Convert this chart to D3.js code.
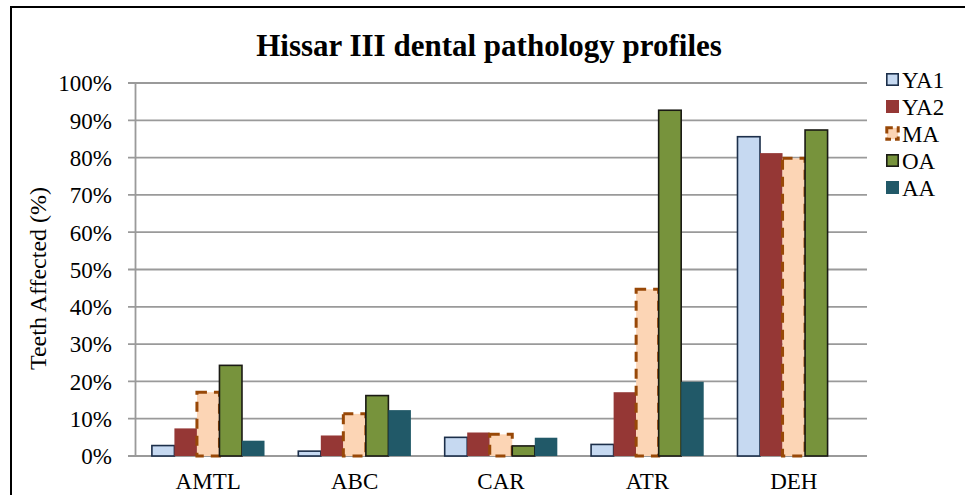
<!DOCTYPE html>
<html>
<head>
<meta charset="utf-8">
<script src="https://cdn.jsdelivr.net/npm/d3@7"></script>
<style>
  html, body { margin: 0; padding: 0; background: #fff; }
  svg { display: block; }
  text { font-family: "Liberation Serif", "Times New Roman", serif; fill: #000; }
</style>
</head>
<body>
<svg id="chart" width="965" height="495"></svg>
<script>
// Pathology categories and the share of teeth affected (%) per age group
const categories = ["AMTL", "ABC", "CAR", "ATR", "DEH"];
const seriesNames = ["YA1", "YA2", "MA", "OA", "AA"];
const YA1 = [2.8, 1.3, 5.0, 3.1, 85.6];
const YA2 = [7.4, 5.5, 6.3, 17.1, 81.2];
const MA  = [17.1, 11.3, 5.8, 44.7, 79.8];
const OA  = [24.3, 16.2, 2.7, 92.7, 87.4];
const AA  = [4.1, 12.3, 4.9, 19.9, 0];
const yTicks = [0, 10, 20, 30, 40, 50, 60, 70, 80, 90, 100];

const values = [YA1, YA2, MA, OA, AA];
const styles = {
  YA1: { fill: "#c6d9f1", stroke: "#1c2f4a", width: 1.6, dash: null },
  YA2: { fill: "#953735", stroke: "none", width: 0, dash: null },
  MA:  { fill: "#fcd5b5", stroke: "#984807", width: 3, dash: "10,7" },
  OA:  { fill: "#77933c", stroke: "#1a1a14", width: 1.6, dash: null },
  AA:  { fill: "#215968", stroke: "none", width: 0, dash: null }
};

const svg = d3.select("#chart");

// outer frame
svg.append("rect")
  .attr("x", 11).attr("y", 7).attr("width", 970).attr("height", 500)
  .attr("fill", "none").attr("stroke", "#000").attr("stroke-width", 2);

const margin = { left: 135, right: 867, top: 83, bottom: 456 };

const x0 = d3.scaleBand().domain(categories)
  .range([margin.left, margin.right]).paddingInner(0).paddingOuter(0);
const x1 = d3.scaleBand().domain(seriesNames)
  .range([0, x0.bandwidth()]).paddingInner(0).paddingOuter(0.75);
const y = d3.scaleLinear().domain([0, 100]).range([margin.bottom, margin.top]);

// gridlines
svg.append("g")
  .selectAll("line").data(yTicks).join("line")
  .attr("x1", margin.left - 7).attr("x2", margin.right)
  .attr("y1", d => y(d)).attr("y2", d => y(d))
  .attr("stroke", "#9a9a9a").attr("stroke-width", 1.8);

// y axis
const yAxis = d3.axisLeft(y).tickValues(yTicks).tickFormat(d => d + "%").tickSize(0).tickPadding(0);
const gy = svg.append("g").attr("transform", `translate(${margin.left},0)`).call(yAxis);
gy.select(".domain").attr("stroke", "#9a9a9a").attr("stroke-width", 1.8);
gy.selectAll("text")
  .attr("x", -23).attr("dy", "0.34em")
  .style("font-family", "'Liberation Serif', serif").style("font-size", "23px").attr("fill", "#000");

// bars
const groups = svg.append("g").selectAll("g").data(categories).join("g")
  .attr("transform", d => `translate(${x0(d)},0)`);

groups.selectAll("rect")
  .data((c, i) => seriesNames.map((s, j) => ({ s, v: values[j][i] })))
  .join("rect")
  .filter(d => d.v > 0)
  .attr("x", d => x1(d.s))
  .attr("width", x1.bandwidth())
  .attr("y", d => y(d.v))
  .attr("height", d => y(0) - y(d.v))
  .attr("fill", d => styles[d.s].fill)
  .attr("stroke", d => styles[d.s].stroke)
  .attr("stroke-width", d => styles[d.s].width)
  .attr("stroke-dasharray", d => styles[d.s].dash);

// x axis labels
const xAxis = d3.axisBottom(x0).tickSize(0).tickPadding(0);
const gx = svg.append("g").attr("transform", `translate(0,${margin.bottom})`).call(xAxis);
gx.select(".domain").remove();
gx.selectAll("text")
  .attr("y", 33).attr("dy", 0)
  .style("font-family", "'Liberation Serif', serif").style("font-size", "23px").attr("fill", "#000");

// title
svg.append("text")
  .attr("x", 489).attr("y", 56).attr("text-anchor", "middle")
  .style("font-size", "31px").style("font-weight", "bold")
  .text("Hissar III dental pathology profiles");

// y axis title
svg.append("text")
  .attr("transform", `translate(46,${(margin.top + margin.bottom) / 2 + 9}) rotate(-90)`)
  .attr("text-anchor", "middle")
  .style("font-size", "24px")
  .text("Teeth Affected (%)");

// legend
const legend = svg.append("g").selectAll("g").data(seriesNames).join("g")
  .attr("transform", (d, i) => `translate(886,${79.5 + i * 27})`);
legend.append("rect")
  .attr("x", d => styles[d].width ? 0.8 : 0).attr("y", d => -6.5 + (styles[d].width ? 0.8 : 0))
  .attr("width", d => 13 - (styles[d].width ? 1.6 : 0)).attr("height", d => 13 - (styles[d].width ? 1.6 : 0))
  .attr("fill", d => styles[d].fill)
  .attr("stroke", d => styles[d].stroke)
  .attr("stroke-width", d => styles[d].width)
  .attr("stroke-dasharray", d => styles[d].dash ? "6,4" : null);
legend.append("text")
  .attr("x", 16).attr("y", 8)
  .style("font-size", "23px")
  .text(d => d);
</script>
</body>
</html>
